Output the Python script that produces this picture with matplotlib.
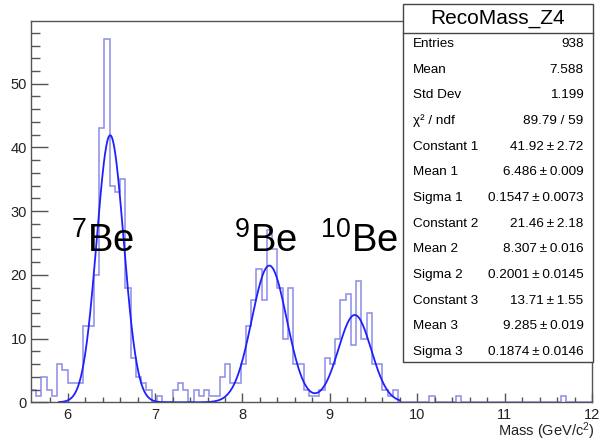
import numpy as np
import matplotlib
matplotlib.use("Agg")
import matplotlib.pyplot as plt
from matplotlib.patches import Rectangle
from matplotlib.lines import Line2D

# ---------------- data ----------------
x_min = 5.58
bin_width = 0.06
counts = [2, 1, 4, 2, 1, 6, 5, 3, 3, 3,
          12, 12, 20, 43, 57, 34, 33, 35, 18, 7,
          4, 3, 2, 0, 1, 0, 0, 2, 3, 2,
          0, 2, 1, 2, 1, 1, 4, 6, 3, 3,
          6, 12, 16, 21, 16, 27, 24, 18, 10, 18,
          6, 6, 2, 1, 1, 2, 7, 6, 10, 16,
          17, 9, 19, 10, 14, 6, 6, 2, 1, 2,
          0, 0, 0, 0, 0, 0, 1, 0, 0, 0,
          0, 1, 0, 0, 0, 0, 0, 0, 0, 0,
          0, 0, 0, 0, 0, 0, 0, 0, 0, 0,
          0, 1, 0, 0, 0, 0, 0]

fit_const = [41.92, 21.46, 13.71]
fit_mean = [6.486, 8.307, 9.285]
fit_sigma = [0.1547, 0.2001, 0.1874]
fit_range = (5.9, 9.8)

stats_title = "RecoMass_Z4"
stats_labels = ["Entries", "Mean", "Std Dev", "\u03c7\u00b2 / ndf",
                "Constant 1", "Mean 1", "Sigma 1",
                "Constant 2", "Mean 2", "Sigma 2",
                "Constant 3", "Mean 3", "Sigma 3"]
pm = "\u2009\u00b1\u2009"
stats_values = ["938", "7.588", "1.199", "89.79 / 59",
                "41.92" + pm + "2.72", "6.486" + pm + "0.009", "0.1547" + pm + "0.0073",
                "21.46" + pm + "2.18", "8.307" + pm + "0.016", "0.2001" + pm + "0.0145",
                "13.71" + pm + "1.55", "9.285" + pm + "0.019", "0.1874" + pm + "0.0146"]

peak_labels = ["7", "9", "10"]
peak_label_px = [71.0, 234.5, 320.5]   # left edge in pixels

# ---------------- style ----------------
plt.rcParams['font.family'] = ['Liberation Sans', 'DejaVu Sans']
plt.rcParams['mathtext.fontset'] = 'custom'
plt.rcParams['mathtext.rm'] = 'Liberation Sans'
plt.rcParams['mathtext.it'] = 'Liberation Sans'

W, H = 601, 442
fig = plt.figure(figsize=(W / 100, H / 100), dpi=100)

def fx(px):
    return px / W

def fy(py):
    return 1 - py / H

ax_left, ax_right, ax_top, ax_bottom = 31.0, 592.0, 21.0, 402.3
ax = fig.add_axes([fx(ax_left), fy(ax_bottom), fx(ax_right) - fx(ax_left), fy(ax_top) - fy(ax_bottom)])

edges = x_min + bin_width * np.arange(len(counts) + 1)
ax.stairs(counts, edges, color='#8c8ce8', lw=1.1, baseline=0)

xf = np.linspace(fit_range[0], fit_range[1], 600)
yf = np.zeros_like(xf)
for c, m, s in zip(fit_const, fit_mean, fit_sigma):
    yf += c * np.exp(-0.5 * ((xf - m) / s) ** 2)
ax.plot(xf, yf, color='#1f1fff', lw=1.3)

ax.set_xlim(edges[0], 12.0)
ax.set_ylim(0, 1.05 * max(counts))

ax.set_xticks([6, 7, 8, 9, 10, 11, 12])
ax.set_xticks(np.arange(5.8, 12.01, 0.2), minor=True)
ax.set_yticks([0, 10, 20, 30, 40, 50])
ax.set_yticks(np.arange(0, 59, 2), minor=True)
ax.tick_params(axis='both', which='both', direction='in', top=False, right=False,
               colors='#555555', labelcolor='#222222', labelsize=10.5)
ax.tick_params(axis='y', which='major', length=12.2, width=1.0, pad=3)
ax.tick_params(axis='y', which='minor', length=6.3, width=1.0)
ax.tick_params(axis='x', which='major', length=6.5, width=1.0, pad=4)
ax.tick_params(axis='x', which='minor', length=3.8, width=1.0)
for sp in ax.spines.values():
    sp.set_color('#555555')
    sp.set_linewidth(1.0)

fig.text(fx(595), fy(436), r"Mass (GeV/c$^{2}$)", ha='right', va='baseline',
         fontsize=10.5, color='#222222')

# peak labels
for lab, px in zip(peak_labels, peak_label_px):
    fig.text(fx(px), fy(251.5), r"$\mathregular{^{%s}Be}$" % lab, ha='left', va='baseline',
             fontsize=27.5, color='black')

# stats box
bx0, bx1, by0, by1, bdiv = 403.0, 593.0, 4.0, 362.0, 32.7
fig.patches.append(Rectangle((fx(bx0), fy(by1)), fx(bx1) - fx(bx0), fy(by0) - fy(by1),
                             transform=fig.transFigure, facecolor='white',
                             edgecolor='#444444', lw=1.0, zorder=5))
fig.lines.append(Line2D([fx(bx0), fx(bx1)], [fy(bdiv), fy(bdiv)], transform=fig.transFigure,
                        color='#444444', lw=1.0, zorder=6))
fig.text(fx((bx0 + bx1) / 2), fy(18.5), stats_title, ha='center', va='center',
         fontsize=15, color='black', zorder=7)
row0, row_step = 44.0, 25.65
for i, (lab, val) in enumerate(zip(stats_labels, stats_values)):
    yy = row0 + i * row_step
    fig.text(fx(413), fy(yy), lab, ha='left', va='center', fontsize=9.7, color='black', zorder=7)
    fig.text(fx(583.5), fy(yy), val, ha='right', va='center', fontsize=9.7, color='black', zorder=7)

fig.savefig("out.png", dpi=100)
